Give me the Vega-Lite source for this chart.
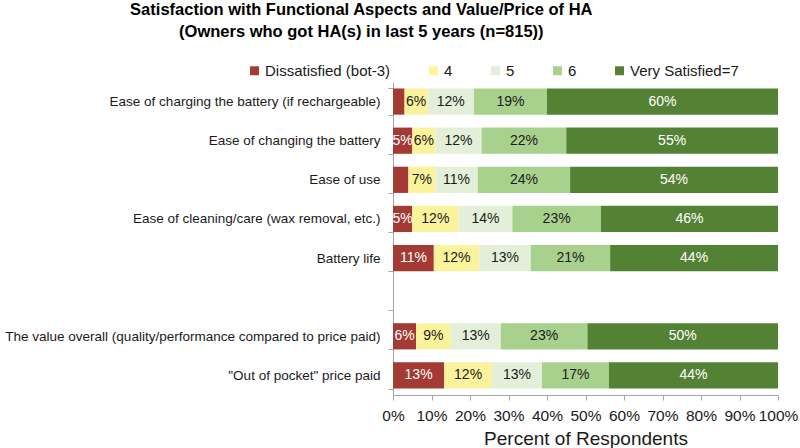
{
  "$schema": "https://vega.github.io/schema/vega-lite/v6.json",
  "width": 385,
  "height": 313,
  "padding": {"left": 4, "top": 1, "right": 4, "bottom": 2},
  "background": "white",
  "title": {
    "text": ["Satisfaction with Functional Aspects and Value/Price of HA", "(Owners who got HA(s) in last 5 years (n=815))"],
    "font": "Liberation Sans",
    "fontSize": 16.5,
    "fontWeight": "bold",
    "lineHeight": 22,
    "color": "#000000",
    "anchor": "middle",
    "frame": "bounds",
    "offset": 23,
    "dx": -40
  },
  "data": {
    "values": [
      {"item": "Ease of charging the battery (if rechargeable)", "level": "Dissatisfied (bot-3)", "score": 3, "pct": 0.03},
      {"item": "Ease of charging the battery (if rechargeable)", "level": "4", "score": 4, "pct": 0.06},
      {"item": "Ease of charging the battery (if rechargeable)", "level": "5", "score": 5, "pct": 0.12},
      {"item": "Ease of charging the battery (if rechargeable)", "level": "6", "score": 6, "pct": 0.19},
      {"item": "Ease of charging the battery (if rechargeable)", "level": "Very Satisfied=7", "score": 7, "pct": 0.60},
      {"item": "Ease of changing the battery", "level": "Dissatisfied (bot-3)", "score": 3, "pct": 0.05},
      {"item": "Ease of changing the battery", "level": "4", "score": 4, "pct": 0.06},
      {"item": "Ease of changing the battery", "level": "5", "score": 5, "pct": 0.12},
      {"item": "Ease of changing the battery", "level": "6", "score": 6, "pct": 0.22},
      {"item": "Ease of changing the battery", "level": "Very Satisfied=7", "score": 7, "pct": 0.55},
      {"item": "Ease of use", "level": "Dissatisfied (bot-3)", "score": 3, "pct": 0.04},
      {"item": "Ease of use", "level": "4", "score": 4, "pct": 0.07},
      {"item": "Ease of use", "level": "5", "score": 5, "pct": 0.11},
      {"item": "Ease of use", "level": "6", "score": 6, "pct": 0.24},
      {"item": "Ease of use", "level": "Very Satisfied=7", "score": 7, "pct": 0.54},
      {"item": "Ease of cleaning/care (wax removal, etc.)", "level": "Dissatisfied (bot-3)", "score": 3, "pct": 0.05},
      {"item": "Ease of cleaning/care (wax removal, etc.)", "level": "4", "score": 4, "pct": 0.12},
      {"item": "Ease of cleaning/care (wax removal, etc.)", "level": "5", "score": 5, "pct": 0.14},
      {"item": "Ease of cleaning/care (wax removal, etc.)", "level": "6", "score": 6, "pct": 0.23},
      {"item": "Ease of cleaning/care (wax removal, etc.)", "level": "Very Satisfied=7", "score": 7, "pct": 0.46},
      {"item": "Battery life", "level": "Dissatisfied (bot-3)", "score": 3, "pct": 0.106},
      {"item": "Battery life", "level": "4", "score": 4, "pct": 0.118},
      {"item": "Battery life", "level": "5", "score": 5, "pct": 0.134},
      {"item": "Battery life", "level": "6", "score": 6, "pct": 0.206},
      {"item": "Battery life", "level": "Very Satisfied=7", "score": 7, "pct": 0.436},
      {"item": "The value overall (quality/performance compared to price paid)", "level": "Dissatisfied (bot-3)", "score": 3, "pct": 0.06},
      {"item": "The value overall (quality/performance compared to price paid)", "level": "4", "score": 4, "pct": 0.09},
      {"item": "The value overall (quality/performance compared to price paid)", "level": "5", "score": 5, "pct": 0.13},
      {"item": "The value overall (quality/performance compared to price paid)", "level": "6", "score": 6, "pct": 0.225},
      {"item": "The value overall (quality/performance compared to price paid)", "level": "Very Satisfied=7", "score": 7, "pct": 0.495},
      {"item": "\"Out of pocket\" price paid", "level": "Dissatisfied (bot-3)", "score": 3, "pct": 0.133},
      {"item": "\"Out of pocket\" price paid", "level": "4", "score": 4, "pct": 0.124},
      {"item": "\"Out of pocket\" price paid", "level": "5", "score": 5, "pct": 0.13},
      {"item": "\"Out of pocket\" price paid", "level": "6", "score": 6, "pct": 0.174},
      {"item": "\"Out of pocket\" price paid", "level": "Very Satisfied=7", "score": 7, "pct": 0.439}
    ]
  },
  "encoding": {
    "y": {
      "field": "item",
      "type": "nominal",
      "title": null,
      "scale": {
        "domain": [
          "Ease of charging the battery (if rechargeable)",
          "Ease of changing the battery",
          "Ease of use",
          "Ease of cleaning/care (wax removal, etc.)",
          "Battery life",
          " ",
          "The value overall (quality/performance compared to price paid)",
          "\"Out of pocket\" price paid"
        ],
        "paddingInner": 0.33,
        "paddingOuter": 0.165
      },
      "axis": {
        "labelFont": "Liberation Sans",
        "labelFontSize": 13.5,
        "labelColor": "#1a1a1a",
        "labelPadding": 8,
        "labelLimit": 500,
        "domainColor": "#a6a6a6",
        "tickColor": "#a6a6a6",
        "tickSize": 5,
        "tickBand": "extent",
        "grid": false
      }
    },
    "x": {
      "field": "pct",
      "type": "quantitative",
      "stack": "zero",
      "scale": {"domain": [0, 1], "nice": false, "clamp": true},
      "title": "Percent of Respondents",
      "axis": {
        "format": ".0%",
        "values": [0, 0.1, 0.2, 0.3, 0.4, 0.5, 0.6, 0.7, 0.8, 0.9, 1],
        "labelOverlap": false,
        "labelFlush": false,
        "grid": false,
        "labelFont": "Liberation Sans",
        "labelFontSize": 15.5,
        "labelColor": "#1a1a1a",
        "labelPadding": 8,
        "titleFont": "Liberation Sans",
        "titleFontSize": 19,
        "titleFontWeight": "normal",
        "titleColor": "#1a1a1a",
        "titlePadding": 6,
        "domainColor": "#a6a6a6",
        "tickColor": "#a6a6a6",
        "tickSize": 5
      }
    },
    "order": {"field": "score", "type": "quantitative", "sort": "ascending"}
  },
  "layer": [
    {
      "mark": {"type": "bar"},
      "encoding": {
        "color": {
          "field": "level",
          "type": "nominal",
          "sort": ["Dissatisfied (bot-3)", "4", "5", "6", "Very Satisfied=7"],
          "scale": {
            "domain": ["Dissatisfied (bot-3)", "4", "5", "6", "Very Satisfied=7"],
            "range": ["#a33a34", "#fbf39c", "#e4efd9", "#a9d18e", "#548235"]
          },
          "legend": {
            "title": null,
            "orient": "none",
            "direction": "horizontal",
            "legendX": -146,
            "legendY": -19,
            "symbolType": "square",
            "symbolSize": 80,
            "symbolStrokeWidth": 0,
            "labelFont": "Liberation Sans",
            "labelFontSize": 15,
            "labelColor": "#1a1a1a",
            "labelOffset": 3,
            "columnPadding": 35
          }
        }
      }
    },
    {
      "mark": {"type": "text", "font": "Liberation Sans", "fontSize": 14, "baseline": "middle", "align": "center"},
      "encoding": {
        "x": {"field": "pct", "type": "quantitative", "stack": "zero", "bandPosition": 0.5},
        "text": {
          "condition": {"test": "datum.pct < 0.05", "value": ""},
          "field": "pct",
          "type": "quantitative",
          "format": ".0%"
        },
        "color": {
          "condition": {"test": "datum.score == 3 || datum.score == 7", "value": "#ffffff"},
          "value": "#1a1a1a"
        }
      }
    }
  ],
  "config": {
    "view": {"stroke": null}
  }
}
